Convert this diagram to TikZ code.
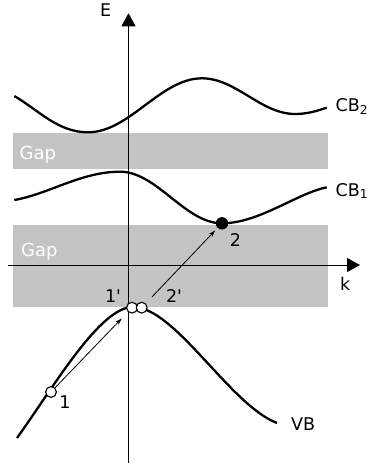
\documentclass[tikz,border=0pt]{standalone}
\usepackage{fontspec}
\setmainfont{DejaVu Sans}
\usetikzlibrary{arrows.meta}
\definecolor{gapgray}{HTML}{C4C4C4}
\tikzset{
  band/.style={fill=gapgray, draw=none},
  bandtext/.style={text=white, anchor=base west, inner sep=0pt, font=\fontsize{18}{20}\selectfont},
  lbl/.style={inner sep=0pt, font=\fontsize{17.5}{20}\selectfont},
  axisline/.style={line width=1pt, -{Triangle[length=13pt,width=14pt]}},
  band curve/.style={line width=2.3pt},
  opendot/.style={circle, draw, line width=1.1pt, fill=white, inner sep=0pt, minimum size=10.8pt},
  fulldot/.style={circle, fill=black, inner sep=0pt, minimum size=12.4pt},
  transition/.style={line width=0.8pt, -{Stealth[length=7pt,width=4.5pt]}},
}
\begin{document}
\begin{tikzpicture}[x=1pt,y=-1pt]
\useasboundingbox (0,0) rectangle (371,466);
% gaps
\fill[band] (13.3,132.7) rectangle (327.7,169.3);
\fill[band] (13.3,225) rectangle (327.7,307.3);
\node[bandtext] (gap1) at (19.5,159) {Gap};
\node[bandtext] (gap2) at (21,256) {Gap};
% axes
\coordinate (ybot) at (128.5,463);
\coordinate (ytop) at (128.5,13.3);
\coordinate (xleft) at (8.3,265);
\coordinate (xright) at (360,265);
\draw[axisline] (ybot) -- (ytop);
\draw[axisline] (xleft) -- (xright);
\node[lbl, anchor=base west] (E) at (100,16) {E};
\node[lbl, anchor=base west] (k) at (340,290.7) {k};
% CB2
\draw[band curve] (14.3,96) .. controls (39,110.5) and (58,132.3) .. (88,132.3)
  .. controls (129.5,132.3) and (160.5,78.3) .. (202,78.3)
  .. controls (236,78.3) and (261,114) .. (295,114)
  .. controls (307,114) and (316,111.2) .. (326.7,107.7);
% CB1
\draw[band curve] (14.3,200) .. controls (49,194) and (81,171.7) .. (120,171.7)
  .. controls (157,171.7) and (185,223.3) .. (222,223.3)
  .. controls (259,223.3) and (297,193.3) .. (326.7,187.3);
% VB
\draw[band curve] (17,438) .. controls (55,385) and (100,307) .. (133,307)
  .. controls (175,307) and (230,405) .. (277,423);
\node[lbl, anchor=base west] (cb2) at (335.5,111) {CB\textsubscript{2}};
\node[lbl, anchor=base west] (cb1) at (335.5,196) {CB\textsubscript{1}};
\node[lbl, anchor=base west] (vb) at (291,430) {VB};
% points
\node[opendot] (p1) at (51,392) {};
\node[opendot] (p1p) at (132,307.7) {};
\node[opendot] (p2p) at (141.7,307.7) {};
\node[fulldot] (p2) at (222,223.3) {};
\draw[transition, shorten >=9pt] (p1) -- (p1p);
\draw[transition, shorten <=9pt, shorten >=3.5pt] (p2p) -- (p2);
\node[lbl, anchor=base] (l1) at (65,408) {1};
\node[lbl, anchor=base] (l1p) at (113,302) {1\textquotesingle};
\node[lbl, anchor=base] (l2p) at (174,302) {2\textquotesingle};
\node[lbl, anchor=base] (l2) at (235.5,246.7) {2};
\end{tikzpicture}
\end{document}
